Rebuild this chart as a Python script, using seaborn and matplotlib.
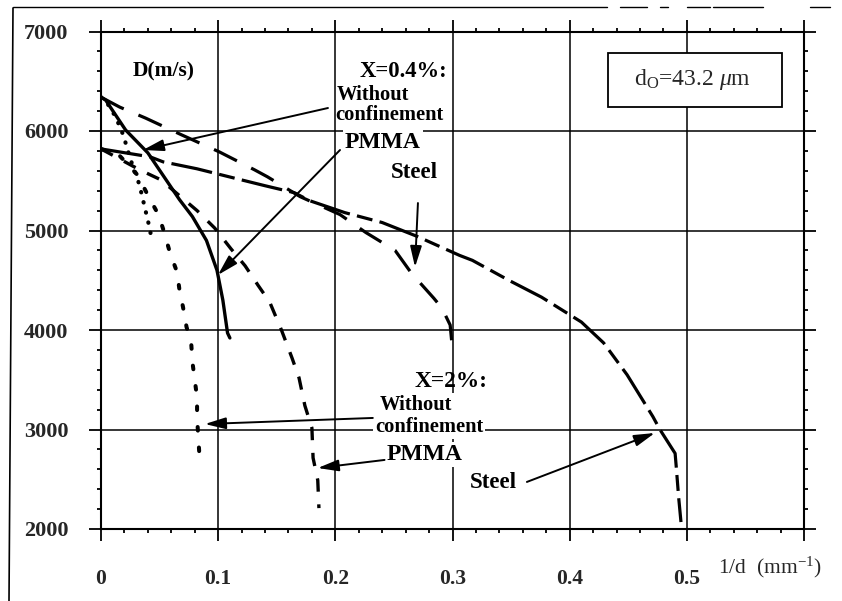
import matplotlib
matplotlib.use("Agg")
import matplotlib.pyplot as plt
from matplotlib.lines import Line2D
from matplotlib.patches import Rectangle
from matplotlib.ticker import MultipleLocator, FixedLocator, FixedFormatter
import seaborn as sns
import pandas as pd

# ---------------- data (1/d in mm^-1, D in m/s) ----------------
# X = 0.4 %
x_free_04 = [0.000, 0.008, 0.014, 0.019, 0.023, 0.027, 0.031, 0.034, 0.036, 0.038, 0.040, 0.042, 0.043]
d_free_04 = [6340, 6240, 6100, 5960, 5800, 5650, 5530, 5400, 5300, 5200, 5100, 5000, 4900]

x_pmma_04 = [0.000, 0.004, 0.021, 0.040, 0.067, 0.078, 0.090, 0.099, 0.104, 0.108, 0.110]
d_pmma_04 = [6340, 6310, 6010, 5780, 5310, 5140, 4900, 4600, 4300, 3970, 3920]

x_steel_04 = [0.000, 0.016, 0.038, 0.069, 0.101, 0.131, 0.142, 0.170, 0.204, 0.226, 0.251,
              0.265, 0.284, 0.291, 0.298, 0.300]
d_steel_04 = [6340, 6240, 6130, 5960, 5790, 5610, 5540, 5340, 5160, 4980, 4800,
              4570, 4320, 4220, 4050, 3800]

# X = 2 %
x_free_2 = [0.000, 0.016, 0.031, 0.042, 0.049, 0.054, 0.059, 0.065, 0.067, 0.070, 0.073,
            0.077, 0.078, 0.080, 0.082, 0.082, 0.083, 0.084]
d_free_2 = [5820, 5750, 5560, 5310, 5160, 4980, 4770, 4580, 4400, 4230, 4030,
            3870, 3680, 3500, 3320, 3120, 2930, 2740]

x_pmma_2 = [0.000, 0.033, 0.051, 0.082, 0.097, 0.111, 0.123, 0.134, 0.144, 0.154, 0.163,
            0.169, 0.174, 0.180, 0.181, 0.185, 0.186]
d_pmma_2 = [5820, 5610, 5510, 5200, 5025, 4815, 4645, 4450, 4280, 4000, 3720,
            3520, 3240, 3015, 2715, 2490, 2210]

x_steel_2 = [0.000, 0.042, 0.053, 0.082, 0.116, 0.140, 0.165, 0.178, 0.208, 0.240, 0.270,
             0.306, 0.317, 0.348, 0.376, 0.410, 0.429, 0.449, 0.471, 0.477, 0.490, 0.491,
             0.493, 0.495]
d_steel_2 = [5820, 5740, 5690, 5620, 5520, 5450, 5380, 5300, 5180, 5080, 4940,
             4750, 4700, 4500, 4330, 4080, 3870, 3550, 3130, 3000, 2760, 2620,
             2320, 2070]

x_ticks = [0.0, 0.1, 0.2, 0.3, 0.4, 0.5, 0.6]
x_tick_labels = ["0", "0.1", "0.2", "0.3", "0.4", "0.5", ""]
y_ticks = [2000, 3000, 4000, 5000, 6000, 7000]
y_tick_labels = ["2000", "3000", "4000", "5000", "6000", "7000"]

# ---------------- styling ----------------
sns.set_theme(style="white")
plt.rcParams["font.family"] = ["Liberation Serif", "DejaVu Serif"]
plt.rcParams["mathtext.fontset"] = "custom"
plt.rcParams["mathtext.rm"] = "Liberation Serif"
plt.rcParams["mathtext.it"] = "Liberation Serif:italic"
plt.rcParams["mathtext.bf"] = "Liberation Serif:bold"

fig = plt.figure(figsize=(8.42, 6.01), dpi=100)
fig.patch.set_facecolor("white")
ax = fig.add_axes([101/842, 1 - 529/601, (804-101)/842, (529-31.5)/601])
ax.set_facecolor("white")

curves = [
    (x_free_04, d_free_04, dict(linestyle=(0, (0.1, 2.4)), lw=3.0, dash_capstyle="round")),
    (x_pmma_04, d_pmma_04, dict(linestyle="-", lw=2.4)),
    (x_steel_04, d_steel_04, dict(linestyle=(0, (8, 5)), lw=2.3)),
    (x_free_2, d_free_2, dict(linestyle=(0, (0.9, 4.2)), lw=2.9, dash_capstyle="round")),
    (x_pmma_2, d_pmma_2, dict(linestyle=(0, (4, 3.8)), lw=2.4)),
    (x_steel_2, d_steel_2, dict(linestyle=(0, (13, 2.3, 5, 2.3)), lw=2.3)),
]
for xs, ys, st in curves:
    df = pd.DataFrame({"x": xs, "D": ys})
    sns.lineplot(data=df, x="x", y="D", ax=ax, sort=False, estimator=None,
                 color="black", zorder=3, **st)

ax.set_xlim(0, 0.6)
ax.set_ylim(2000, 7000)
ax.xaxis.set_major_locator(FixedLocator(x_ticks))
ax.xaxis.set_major_formatter(FixedFormatter(x_tick_labels))
ax.yaxis.set_major_locator(FixedLocator(y_ticks))
ax.yaxis.set_major_formatter(FixedFormatter(y_tick_labels))
ax.xaxis.set_minor_locator(MultipleLocator(0.02))
ax.yaxis.set_minor_locator(MultipleLocator(200))
ax.set_xlabel("")
ax.set_ylabel("")

ax.grid(True, which="major", color="black", lw=1.1)
ax.set_axisbelow(True)
for s in ax.spines.values():
    s.set_color("black")
    s.set_linewidth(1.5)

ax.tick_params(which="both", direction="out", top=True, right=True, bottom=True, left=True,
               color="black", width=1.3)
ax.tick_params(which="major", length=8.5)
ax.tick_params(which="minor", length=3.2)
ax.tick_params(axis="y", which="major", pad=15, labelsize=16)
ax.tick_params(axis="x", which="major", pad=20, labelsize=15.5)
for lab in ax.get_xticklabels() + ax.get_yticklabels():
    lab.set_fontweight("bold")

# ---------------- texts ----------------
bold = dict(fontweight="bold", color="black", va="baseline", ha="left", zorder=5)
wb = dict(facecolor="white", edgecolor="none", pad=1.5)
ax.text(0.027, 6543, "D(m/s)", fontsize=15.5, **bold)
ax.text(0.221, 6543, "X=0.4%:", fontsize=16.3, **bold)
ax.text(0.201, 6312, "Without", fontsize=14.8, **bold)
ax.text(0.1997, 6111, "confinement", fontsize=14.8, **bold)
ax.text(0.208, 5829, "PMMA", fontsize=17, bbox=wb, **bold)
ax.text(0.247, 5528, "Steel", fontsize=16.5, **bold)

ax.text(0.268, 3427, "X=2%:", fontsize=16.8, **bold)
ax.text(0.238, 3196, "Without", fontsize=14.8, bbox=wb, **bold)
ax.text(0.234, 2975, "confinement", fontsize=14.8, bbox=wb, **bold)
ax.text(0.244, 2694, "PMMA", fontsize=17, bbox=wb, **bold)
ax.text(0.315, 2412, "Steel", fontsize=16.5, **bold)

# d0 box
ax.add_patch(Rectangle((0.721, 0.848), 0.2475, 0.1085, transform=ax.transAxes,
                       facecolor="white", edgecolor="black", lw=1.3, zorder=4))
ax.text(0.841, 0.9035, r"d$_{\mathrm{O}}$=43.2 $\mu$m", transform=ax.transAxes,
        fontsize=17, ha="center", va="center", zorder=5)

# x axis label
ax.text(0.8777, -0.0764, r"1/d  (mm$^{\mathrm{-1}}$)", transform=ax.transAxes,
        fontsize=15.5, ha="left", va="center", clip_on=False)

# ---------------- arrows ----------------
arrows = [
    ((0.1937, 6231), (0.0358, 5809)),
    ((0.204, 5809), (0.0998, 4553)),
    ((0.2705, 5276), (0.268, 4633)),
    ((0.232, 3116), (0.0887, 3055)),
    ((0.242, 2694), (0.185, 2613)),
    ((0.3635, 2473), (0.4727, 2965)),
]
for tail, tip in arrows:
    ax.annotate("", xy=tip, xytext=tail,
                arrowprops=dict(arrowstyle="-|>,head_length=0.9,head_width=0.25",
                                lw=1.4, color="black", shrinkA=0, shrinkB=0,
                                mutation_scale=14), zorder=6)

# ---------------- scan frame lines ----------------
fig.add_artist(Line2D([13/842, 9/842], [1 - 8/601, 0.0], transform=fig.transFigure,
                      color="black", lw=1.2))
for x0, x1 in [(13, 607), (620, 647), (660, 668), (687, 710), (713, 763), (810, 830)]:
    fig.add_artist(Line2D([x0/842, x1/842], [1 - 7/601, 1 - 7/601], transform=fig.transFigure,
                          color="black", lw=1.0))

fig.savefig("out.png", dpi=100)
